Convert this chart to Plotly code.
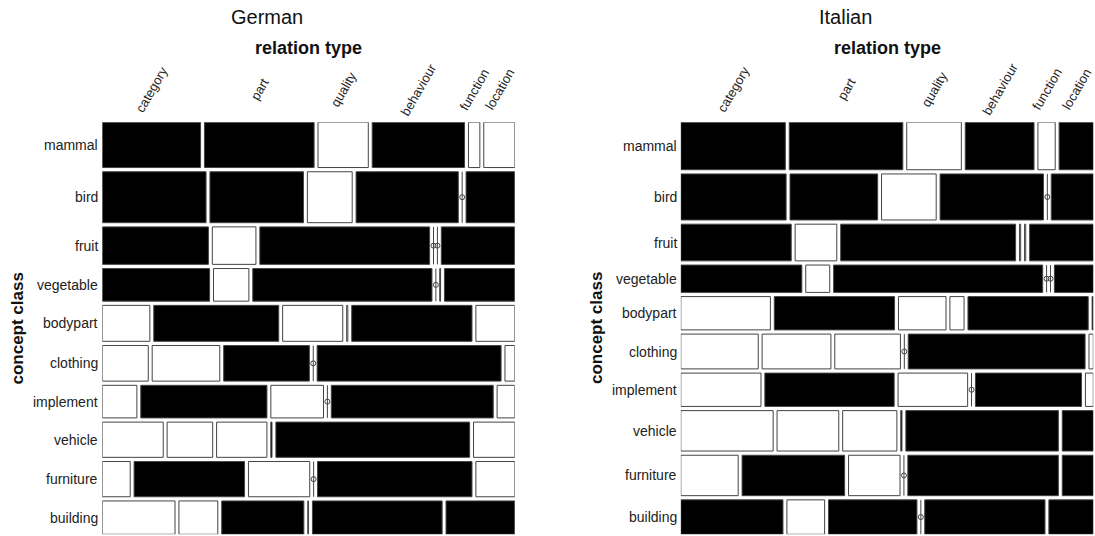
import plotly.graph_objects as go

concepts = ["mammal", "bird", "fruit", "vegetable", "bodypart", "clothing",
            "implement", "vehicle", "furniture", "building"]
relations = ["category", "part", "quality", "behaviour", "function", "location"]

# share of each concept class among all responses (%)
german_row_share = [12.1, 13.6, 10.0, 8.7, 9.6, 9.5, 8.7, 9.4, 9.4, 8.9]
italian_row_share = [12.7, 12.3, 9.8, 7.3, 8.9, 9.3, 8.9, 10.8, 10.8, 9.2]

# share of each relation type within a concept class (%)
german_mammal = [25.0, 27.9, 12.8, 23.5, 2.9, 7.9]
german_bird = [26.4, 23.8, 11.4, 26.0, 0.0, 12.4]
german_fruit = [27.0, 11.1, 43.2, 0.0, 0.0, 18.7]
german_vegetable = [27.3, 9.0, 45.6, 0.0, 0.2, 17.9]
german_bodypart = [12.1, 31.8, 15.3, 0.3, 30.6, 9.9]
german_clothing = [11.7, 17.2, 21.8, 0.0, 46.8, 2.5]
german_implement = [8.8, 32.1, 13.4, 0.0, 41.2, 4.5]
german_vehicle = [15.5, 11.6, 12.8, 0.3, 49.3, 10.5]
german_furniture = [7.1, 28.1, 15.6, 0.0, 39.3, 9.9]
german_building = [18.5, 9.9, 20.9, 0.2, 33.0, 17.5]

italian_mammal = [26.6, 28.9, 13.9, 17.5, 4.4, 8.7]
italian_bird = [26.8, 22.3, 13.9, 26.3, 0.0, 10.7]
italian_fruit = [28.1, 10.6, 44.5, 0.3, 0.3, 16.2]
italian_vegetable = [30.8, 6.1, 53.2, 0.0, 0.0, 9.9]
italian_bodypart = [22.8, 30.6, 12.1, 3.6, 30.6, 0.3]
italian_clothing = [19.7, 17.5, 16.7, 0.0, 45.0, 1.1]
italian_implement = [20.4, 32.9, 17.7, 0.0, 27.0, 2.0]
italian_vehicle = [23.5, 15.7, 13.8, 0.3, 38.8, 7.9]
italian_furniture = [14.6, 26.1, 13.1, 0.0, 38.3, 7.9]
italian_building = [26.0, 9.6, 22.5, 0.0, 30.6, 11.3]

# positive (over-represented) cells shaded dark: 1 = dark
german_positive = [
    [1, 1, 0, 1, 0, 0], [1, 1, 0, 1, 0, 1], [1, 0, 1, 0, 0, 1], [1, 0, 1, 0, 1, 1],
    [0, 1, 0, 0, 1, 0], [0, 0, 1, 0, 1, 0], [0, 1, 0, 0, 1, 0], [0, 0, 0, 1, 1, 0],
    [0, 1, 0, 0, 1, 0], [0, 0, 1, 0, 1, 1]]
italian_positive = [
    [1, 1, 0, 1, 0, 1], [1, 1, 0, 1, 0, 1], [1, 0, 1, 0, 0, 1], [1, 0, 1, 0, 0, 1],
    [0, 1, 0, 0, 1, 1], [0, 0, 0, 0, 1, 0], [0, 1, 0, 0, 1, 0], [0, 0, 0, 1, 1, 1],
    [0, 1, 0, 0, 1, 1], [1, 0, 1, 0, 1, 1]]

german_table = [german_mammal, german_bird, german_fruit, german_vegetable, german_bodypart,
                german_clothing, german_implement, german_vehicle, german_furniture, german_building]
italian_table = [italian_mammal, italian_bird, italian_fruit, italian_vegetable, italian_bodypart,
                 italian_clothing, italian_implement, italian_vehicle, italian_furniture, italian_building]

W, H = 1095, 536
PANEL_PX = 412.5
TOP_PX, BOT_PX = 122.2, 534.3
panels = [
    dict(title="German", table=german_table, rows=german_row_share, pos=german_positive,
         left=102.3, title_x=267, xa="x", ya="y"),
    dict(title="Italian", table=italian_table, rows=italian_row_share, pos=italian_positive,
         left=680.8, title_x=845, xa="x2", ya="y2"),
]
GX = 3.9 / PANEL_PX
GY = 4.2 / (BOT_PX - TOP_PX)
BORDER = "#444444"
FONT = "Liberation Sans, Arial, Helvetica, sans-serif"

fig = go.Figure()
shapes, annotations = [], []

for p in panels:
    xa, ya = p["xa"], p["ya"]
    total = sum(p["rows"])
    avail_y = 1 - GY * (len(concepts) - 1)
    y = 0.0
    zx, zy = [], []
    first_centers = None
    for i, cname in enumerate(concepts):
        h = p["rows"][i] / total * avail_y
        vals = p["table"][i]
        s = sum(vals)
        avail_x = 1 - GX * (len(relations) - 1)
        x = 0.0
        centers = []
        for j, v in enumerate(vals):
            w = v / s * avail_x
            if v == 0:
                shapes.append(dict(type="line", xref=xa, yref=ya, x0=x, x1=x, y0=y, y1=y + h,
                                   line=dict(color=BORDER, width=1)))
                zx.append(x)
                zy.append(y + h / 2)
            else:
                fill = "black" if p["pos"][i][j] else "white"
                shapes.append(dict(type="rect", xref=xa, yref=ya, x0=x, x1=x + w, y0=y, y1=y + h,
                                   fillcolor=fill, line=dict(color=BORDER, width=1)))
            centers.append(x + w / 2)
            x += w + GX
        if first_centers is None:
            first_centers = centers
        annotations.append(dict(xref=xa, yref=ya, x=0, y=y + h / 2, text=cname, showarrow=False,
                                xanchor="right", yanchor="middle", xshift=-2,
                                font=dict(size=14, color="#222", family=FONT)))
        y += h + GY
    fig.add_trace(go.Scatter(x=zx, y=zy, mode="markers", xaxis=xa, yaxis=ya, hoverinfo="skip",
                             marker=dict(symbol="circle-open", size=5, color=BORDER,
                                         line=dict(width=1, color=BORDER)),
                             showlegend=False))
    for j, r in enumerate(relations):
        annotations.append(dict(xref=xa, yref="paper", x=first_centers[j], y=1 - 89 / H, text=r,
                                showarrow=False, textangle=-60, xanchor="center", yanchor="middle",
                                font=dict(size=13, color="#222", family=FONT)))
    annotations.append(dict(xref="paper", yref="paper", x=p["title_x"] / W, y=1 - 17 / H,
                            text=p["title"], showarrow=False, xanchor="center", yanchor="middle",
                            font=dict(size=20, color="#111", family=FONT)))
    annotations.append(dict(xref=xa, yref="paper", x=0.5, y=1 - 47.5 / H,
                            text="<b>relation type</b>", showarrow=False, xanchor="center",
                            yanchor="middle", font=dict(size=18, color="#111", family=FONT)))
    annotations.append(dict(xref="paper", yref="paper", x=(p["left"] - 85) / W,
                            y=1 - (TOP_PX + BOT_PX) / 2 / H, text="<b>concept class</b>",
                            showarrow=False, textangle=-90, xanchor="center", yanchor="middle",
                            font=dict(size=17, color="#111", family=FONT)))

axis_common = dict(visible=False, showgrid=False, zeroline=False, fixedrange=True)
fig.update_layout(
    width=W, height=H, margin=dict(l=0, r=0, t=0, b=0),
    paper_bgcolor="white", plot_bgcolor="white", showlegend=False,
    xaxis=dict(domain=[panels[0]["left"] / W, (panels[0]["left"] + PANEL_PX) / W], range=[0, 1], **axis_common),
    yaxis=dict(domain=[1 - BOT_PX / H, 1 - TOP_PX / H], range=[1, 0], **axis_common),
    xaxis2=dict(domain=[panels[1]["left"] / W, (panels[1]["left"] + PANEL_PX) / W], range=[0, 1], **axis_common),
    yaxis2=dict(domain=[1 - BOT_PX / H, 1 - TOP_PX / H], range=[1, 0], **axis_common),
    shapes=shapes, annotations=annotations,
)
fig.write_html("out.html", config={"displayModeBar": False},
               post_script="document.body.style.margin='0';document.body.style.overflow='hidden';")
